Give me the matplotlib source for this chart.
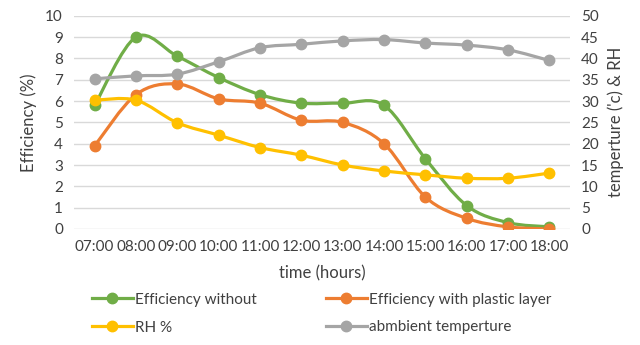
import numpy as np
import matplotlib
matplotlib.use("Agg")
import matplotlib.pyplot as plt
from matplotlib.path import Path
from matplotlib.patches import PathPatch
from matplotlib.lines import Line2D

plt.rcParams['font.family'] = ['Lato', 'DejaVu Sans']

hours = ['07:00', '08:00', '09:00', '10:00', '11:00', '12:00',
         '13:00', '14:00', '15:00', '16:00', '17:00', '18:00']
eff_without = [5.8, 9.0, 8.1, 7.1, 6.3, 5.9, 5.9, 5.8, 3.3, 1.1, 0.3, 0.1]
eff_plastic = [3.9, 6.3, 6.8, 6.1, 5.9, 5.1, 5.0, 4.0, 1.5, 0.5, 0.1, 0.0]
rh = [30.2, 30.2, 24.9, 22.0, 19.1, 17.3, 15.0, 13.6, 12.7, 11.9, 11.9, 13.1]
temp = [35.2, 35.9, 36.3, 39.2, 42.5, 43.3, 44.1, 44.4, 43.6, 43.1, 42.0, 39.5]

GREEN = '#70AD47'
ORANGE = '#ED7D31'
YELLOW = '#FFC000'
GREY = '#A5A5A5'


def smooth_line(ax, xs, ys, color):
    # Excel-style smoothed line: cubic bezier segments through each point
    p = np.column_stack([xs, ys]).astype(float)
    pad = np.vstack([p[0], p, p[-1]])
    verts = [p[0]]
    codes = [Path.MOVETO]
    for i in range(len(p) - 1):
        p0, p1, p2, p3 = pad[i], pad[i + 1], pad[i + 2], pad[i + 3]
        verts += [p1 + (p2 - p0) / 6, p2 - (p3 - p1) / 6, p2]
        codes += [Path.CURVE4] * 3
    ax.add_patch(PathPatch(Path(verts, codes), fill=False, edgecolor=color,
                           lw=2.3, capstyle='round', joinstyle='round'))
    ax.plot(xs, ys, 'o', color=color, ms=7.5, ls='none')


fig = plt.figure(figsize=(6.4, 3.45), dpi=100)
ax = fig.add_axes([74 / 640, 1 - 229 / 345, 496 / 640, (229 - 15.7) / 345])
ax2 = ax.twinx()

x = np.arange(len(hours))
smooth_line(ax, x, eff_without, GREEN)
smooth_line(ax, x, eff_plastic, ORANGE)
smooth_line(ax2, x, rh, YELLOW)
smooth_line(ax2, x, temp, GREY)

ax.set_xlim(-0.5, len(hours) - 0.5)
ax.set_ylim(0, 10)
ax2.set_ylim(0, 50)
ax.set_yticks(range(0, 11))
ax2.set_yticks(range(0, 51, 5))
ax.set_xticks(x)
ax.set_xticklabels(hours)
ax.grid(axis='y', color='#D9D9D9', lw=1)
ax.set_axisbelow(True)
for a in (ax, ax2):
    for s in a.spines.values():
        s.set_visible(False)
    a.tick_params(length=0, labelsize=11, colors='#404040')
ax.tick_params(axis='y', pad=8)
ax2.tick_params(axis='y', pad=8)
ax.tick_params(axis='x', pad=8)

ax.set_xlabel('time (hours)', fontsize=12, color='#404040', labelpad=8)
ax.set_ylabel('Efficiency (%)', fontsize=12, color='#404040', labelpad=6)
ax2.set_ylabel("temperture ('c) & RH", fontsize=12, color='#404040', labelpad=6)

# legend fills column by column, so order entries to read across rows
labels = ['Efficiency without', 'RH %',
          'Efficiency with plastic layer', 'abmbient temperture']
colors = [GREEN, YELLOW, ORANGE, GREY]
handles = [Line2D([], [], color=c, lw=2.3, marker='o', ms=7.5) for c in colors]
fig.legend(handles, labels, ncol=2, loc='upper left',
           bbox_to_anchor=(78 / 640, 1 - 279 / 345), frameon=False,
           fontsize=11, handlelength=2.7, handletextpad=0.15,
           columnspacing=4.5, labelspacing=0.9, labelcolor='#404040')

fig.savefig('out.png', dpi=100)
